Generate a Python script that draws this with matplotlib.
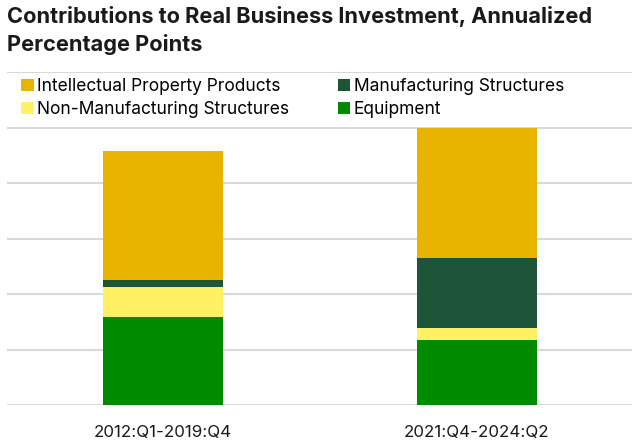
import numpy as np
import matplotlib.pyplot as plt

#-------------- Data ---------------------------------------------------------------

periods = ['2012:Q1-2019:Q4', '2021:Q4-2024:Q2']

equipment        = [1.59, 1.18]
non_mfg_struct   = [0.54, 0.20]
mfg_struct       = [0.12, 1.27]
ip_products      = [2.32, 2.35]

c_ipp   = '#E8B400'
c_mfg   = '#1E5538'
c_nonm  = '#FFF064'
c_equip = '#008A00'

#-------------- Stacked bars -------------------------------------------------------

plt.rcParams['font.family'] = ['Inter', 'DejaVu Sans']

fig = plt.figure(figsize=(6.38, 4.45), dpi=100)
ax = fig.add_axes([7/638, 40/445, 625/638, 333/445])

x = np.arange(len(periods))
w = 0.382

b0 = np.zeros(2)
h_eq = ax.bar(x, equipment, w, bottom=b0, color=c_equip, zorder=2)
b0 = b0 + equipment
h_nm = ax.bar(x, non_mfg_struct, w, bottom=b0, color=c_nonm, zorder=2)
b0 = b0 + non_mfg_struct
h_mf = ax.bar(x, mfg_struct, w, bottom=b0, color=c_mfg, zorder=2)
b0 = b0 + mfg_struct
h_ip = ax.bar(x, ip_products, w, bottom=b0, color=c_ipp, zorder=2)

ax.set_xlim(-0.497, 1.494)
ax.set_ylim(0, 6)
ax.set_yticks(range(0, 7))
ax.yaxis.grid(True, color='#D9D9D9', linewidth=1.5, zorder=0)
ax.set_axisbelow(True)
ax.tick_params(axis='y', left=False, labelleft=False)
ax.tick_params(axis='x', bottom=False, labelsize=12.2, pad=11, colors='#1a1a1a')
ax.set_xticks(x)
ax.set_xticklabels(periods)
for s in ax.spines.values():
    s.set_visible(False)

leg = ax.legend([h_ip, h_nm, h_mf, h_eq],
                ['Intellectual Property Products', 'Non-Manufacturing Structures',
                 'Manufacturing Structures', 'Equipment'],
                ncol=2, loc='upper left', bbox_to_anchor=(0.017, 0.993),
                frameon=False, fontsize=12.5, handlelength=0.72, handleheight=0.72,
                handletextpad=0.2, columnspacing=2.8, labelspacing=0.35,
                borderpad=0.2, borderaxespad=0)
leg.set_zorder(5)

fig.text(7/638, 1 - 6/445, 'Contributions to Real Business Investment, Annualized\nPercentage Points',
         ha='left', va='top', fontsize=15.7, fontweight='bold', color='#1a1a1a',
         linespacing=1.4)

plt.savefig('out.png', dpi=100)
